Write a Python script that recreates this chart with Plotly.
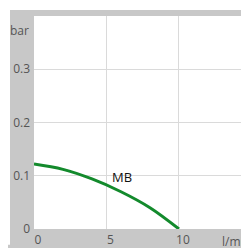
import plotly.graph_objects as go

flow = [0, 2, 4, 6, 8, 10]
pressure = [0.122, 0.112, 0.094, 0.070, 0.040, 0.0]
series_name = "MB"
x_ticks = [0, 5, 10]
x_tick_labels = ["0", "5", "10"]
y_ticks = [0, 0.1, 0.2, 0.3, 0.4]
y_tick_labels = ["0", "0.1", "0.2", "0.3", ""]

# page body has an 8px margin, so the figure starts at (8, 8)
W, H = 241, 240
ml, mr, mt, mb = 26, 0, 8, 16
pw, ph = W - ml - mr, H - mt - mb

fig = go.Figure()
fig.add_trace(go.Scatter(x=flow, y=pressure, mode="lines", name=series_name,
                         line=dict(color="#138a2c", width=3, shape="spline"),
                         hoverinfo="skip"))

font = "Open Sans, Noto Sans, sans-serif"
fig.update_layout(
    width=W, height=H, margin=dict(l=ml, r=mr, t=mt, b=mb),
    paper_bgcolor="#c8c8c8", plot_bgcolor="#ffffff", showlegend=False,
    xaxis=dict(range=[0, 14.83], tickvals=x_ticks, ticktext=x_tick_labels,
               showgrid=True, gridcolor="#dadada", gridwidth=1, zeroline=False,
               showline=False, ticks="", ticklabelshift=4, ticklabelstandoff=2,
               tickfont=dict(family=font, size=12, color="#555555"), fixedrange=True),
    yaxis=dict(range=[0, 0.4], tickvals=y_ticks, ticktext=y_tick_labels,
               showgrid=True, gridcolor="#dadada", gridwidth=1, zeroline=False,
               showline=False, ticks="", ticklabelstandoff=3,
               tickfont=dict(family=font, size=12, color="#555555"), fixedrange=True),
    shapes=[
        dict(type="rect", xref="paper", yref="paper", layer="above",
             x0=-ml / pw, x1=-(ml - 2) / pw, y0=-mb / ph, y1=1 + mt / ph,
             fillcolor="#ffffff", line=dict(width=0)),
        dict(type="rect", xref="paper", yref="paper", layer="above",
             x0=-ml / pw, x1=1, y0=1 + (mt - 2) / ph, y1=1 + mt / ph,
             fillcolor="#ffffff", line=dict(width=0)),
    ],
    annotations=[
        dict(text=series_name, x=6.1, y=0.097, xref="x", yref="y", showarrow=False,
             font=dict(family=font, size=13, color="#111111")),
        dict(text="bar", x=-3 / pw, y=0.372, xref="paper", yref="y", xanchor="right",
             showarrow=False,
             font=dict(family=font, size=12, color="#555555")),
        dict(text="l/min", x=12.85, y=0, xref="x", yref="y", xanchor="left",
             yanchor="top", yshift=-2, showarrow=False,
             font=dict(family=font, size=12, color="#555555")),
    ],
)
fig.write_html("out.html")
